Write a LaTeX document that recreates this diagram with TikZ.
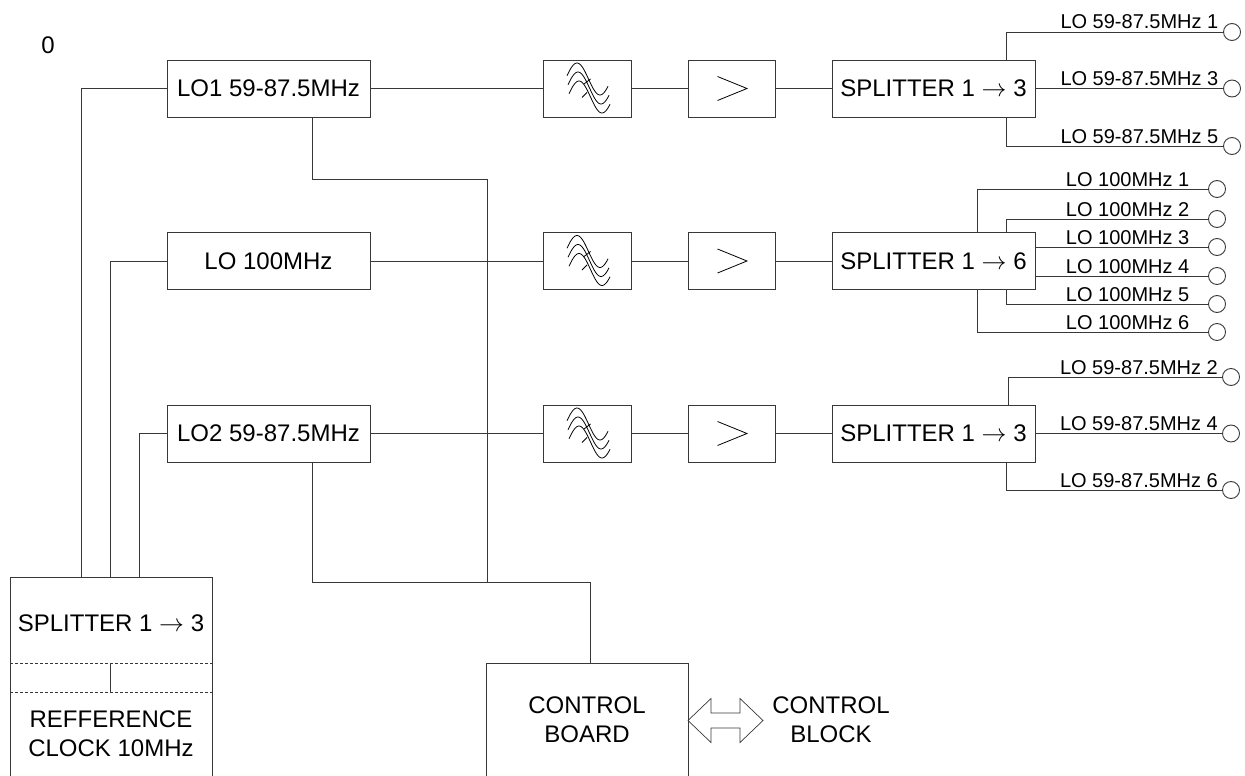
\documentclass[tikz,border=0pt]{standalone}
\usepackage{fontspec}
\setmainfont{Liberation Sans}
\newcommand\bigfnt{\fontsize{24}{29}\selectfont}
\newcommand\smallfnt{\fontsize{20}{23}\selectfont}
\begin{document}
\begin{tikzpicture}[x=1pt,y=-1pt,
  ln/.style={draw=black!78, line width=0.9pt},
  bx/.style={ln, rectangle, inner sep=0pt, minimum height=57pt, font=\bigfnt},
  lobx/.style={bx, minimum width=203pt},
  filt/.style={bx, minimum width=88pt},
  ampb/.style={bx, minimum width=87pt},
  splt/.style={bx, minimum width=203pt},
  port/.style={ln, circle, inner sep=0pt, minimum size=17pt},
  lbl/.style={font=\smallfnt, inner sep=0pt, anchor=base east},
  txt/.style={font=\bigfnt, align=center, inner sep=0pt}
]
\useasboundingbox (0,0) rectangle (1245,776);

\node[txt] (zero) at (48,45) {0};

% row boxes
\node[lobx] (lo1) at (268.5,88.5) {LO1 59-87.5MHz};
\node[lobx] (lo2) at (268.5,261) {LO 100MHz};
\node[lobx] (lo3) at (268.5,433.5) {LO2 59-87.5MHz};
\node[filt] (f1) at (587,88.5) {};
\node[filt] (f2) at (587,261) {};
\node[filt] (f3) at (587,433.5) {};
\node[ampb] (a1) at (731.5,88.5) {};
\node[ampb] (a2) at (731.5,261) {};
\node[ampb] (a3) at (731.5,433.5) {};
\node[splt] (s1) at (933.5,88.5) {SPLITTER 1 $\rightarrow$ 3};
\node[splt] (s2) at (933.5,261) {SPLITTER 1 $\rightarrow$ 6};
\node[splt] (s3) at (933.5,433.5) {SPLITTER 1 $\rightarrow$ 3};

% icons
\foreach \f in {f1,f2,f3}{
  \foreach \dy/\dx in {-9.5/0,-0.5/1,8.5/2}
    \draw[line width=0.8pt, shift={(\f.center)}] plot[domain=-20:21, samples=40, smooth] ({\x+\dx}, {\dy-16*sin((\x+10)*360/46+90)});
  \draw[line width=0.8pt, shift={(\f.center)}] (-3,-4.5) -- (3.5,-9.5) (-5,9) -- (0,4);
}
\foreach \a in {a1,a2,a3}{
  \draw[line width=0.8pt, shift={(\a.center)}] (-14,-12) -- (15.5,0) -- (-14,12);
}

% chain connectors
\foreach \i in {1,2,3}{
  \draw[ln] (lo\i) -- (f\i);
  \draw[ln] (f\i) -- (a\i);
  \draw[ln] (a\i) -- (s\i);
}

% clock block
\node[ln, rectangle, inner sep=0pt, minimum width=202pt, minimum height=240pt, anchor=north west] (clk) at (10,577) {};
\node[txt] (cs) at (111,623) {SPLITTER 1 $\rightarrow$ 3};
\node[txt] (cr) at (111,734) {REFFERENCE\\CLOCK 10MHz};
\draw[ln, line width=0.7pt, dash pattern=on 3pt off 2pt] ([yshift=-86pt]clk.north west) -- ([yshift=-86pt]clk.north east);
\draw[ln, line width=0.7pt, dash pattern=on 3pt off 2pt] ([yshift=-115pt]clk.north west) -- ([yshift=-115pt]clk.north east);
\draw[ln] ([xshift=-1pt,yshift=-86pt]clk.north) -- ([xshift=-1pt,yshift=-115pt]clk.north);

\coordinate (c1) at (81,577);
\coordinate (c2) at (110,577);
\coordinate (c3) at (139,577);
\draw[ln] (c1) |- (lo1.west);
\draw[ln] (c2) |- (lo2.west);
\draw[ln] (c3) |- (lo3.west);

% control board
\node[ln, rectangle, inner sep=0pt, minimum width=202pt, minimum height=150pt, anchor=north west] (cb) at (486,663) {};
\node[txt] (cbt) at (587,720) {CONTROL\\BOARD};
\node[txt] (cbk) at (831,720) {CONTROL\\BLOCK};
\coordinate (ar) at (688,720.5);
\draw[ln, line width=0.7pt] (ar) -- ++(23,-22) -- ++(0,14.5) -- ++(29,0) -- ++(0,-14.5) -- ++(23,22) -- ++(-23,22) -- ++(0,-14.5) -- ++(-29,0) -- ++(0,14.5) -- cycle;

\coordinate (k1) at (487,179);
\coordinate (jA) at (487,582);
\coordinate (jB) at (590,582);
\draw[ln] ([xshift=43.5pt]lo1.south) |- (k1) -- (jA);
\draw[ln] ([xshift=43.5pt]lo3.south) |- (jB) -- (jB |- cb.north);

% outputs row 1
\node[port] (p1) at (1232,32) {};
\node[port] (p3) at (1232,88.5) {};
\node[port] (p5) at (1232,146) {};
\draw[ln] ([xshift=72.5pt]s1.north) |- (p1.west);
\draw[ln] (s1.east) -- (p3.west);
\draw[ln] ([xshift=72.5pt]s1.south) |- (p5.west);
\node[lbl] (q1) at ([xshift=-4.5pt,yshift=3pt]p1.west) {LO 59-87.5MHz 1};
\node[lbl] (q3) at ([xshift=-4.5pt,yshift=3pt]p3.west) {LO 59-87.5MHz 3};
\node[lbl] (q5) at ([xshift=-4.5pt,yshift=3pt]p5.west) {LO 59-87.5MHz 5};

% outputs row 2
\node[port] (r1) at (1217,189) {};
\node[port] (r2) at (1217,219) {};
\node[port] (r3) at (1217,247) {};
\node[port] (r4) at (1217,276) {};
\node[port] (r5) at (1217,304) {};
\node[port] (r6) at (1217,332) {};
\draw[ln] ([xshift=43.5pt]s2.north) |- (r1.west);
\draw[ln] ([xshift=72.5pt]s2.north) |- (r2.west);
\draw[ln] (s2.east |- r3.west) -- (r3.west);
\draw[ln] (s2.east |- r4.west) -- (r4.west);
\draw[ln] ([xshift=72.5pt]s2.south) |- (r5.west);
\draw[ln] ([xshift=43.5pt]s2.south) |- (r6.west);
\foreach \i in {1,...,6}
  \node[lbl] (m\i) at ([xshift=-18.5pt,yshift=3pt]r\i.west) {LO 100MHz \i};

% outputs row 3
\node[port] (t2) at (1231,377) {};
\node[port] (t4) at (1231,433.5) {};
\node[port] (t6) at (1231,490) {};
\draw[ln] ([xshift=74.5pt]s3.north) |- (t2.west);
\draw[ln] (s3.east) -- (t4.west);
\draw[ln] ([xshift=72.5pt]s3.south) |- (t6.west);
\node[lbl] (u2) at ([xshift=-4pt,yshift=3pt]t2.west) {LO 59-87.5MHz 2};
\node[lbl] (u4) at ([xshift=-4pt,yshift=3pt]t4.west) {LO 59-87.5MHz 4};
\node[lbl] (u6) at ([xshift=-4pt,yshift=3pt]t6.west) {LO 59-87.5MHz 6};
\end{tikzpicture}
\end{document}
